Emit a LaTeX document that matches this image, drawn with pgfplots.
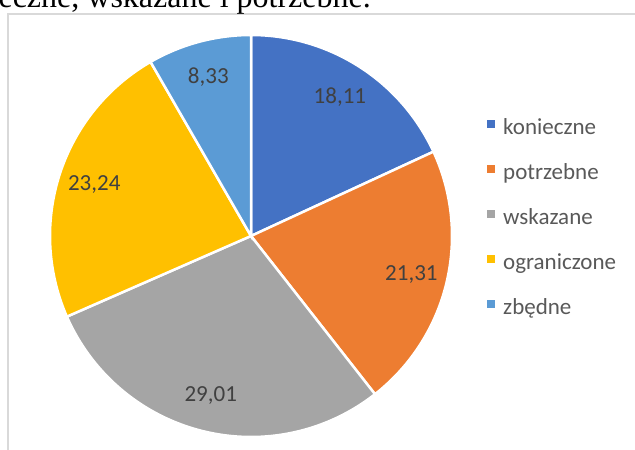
\documentclass[border=0pt]{standalone}
\usepackage{fontspec}
\setmainfont{Carlito}
\newfontfamily\serifttl{Liberation Serif}
\usepackage{pgfplots}
\pgfplotsset{compat=1.18}

\definecolor{pieA}{HTML}{4472C4}
\definecolor{pieB}{HTML}{ED7D31}
\definecolor{pieC}{HTML}{A5A5A5}
\definecolor{pieD}{HTML}{FFC000}
\definecolor{pieE}{HTML}{5B9BD5}
\definecolor{lbl}{HTML}{404040}
\definecolor{legtxt}{HTML}{595959}
\definecolor{framegray}{HTML}{D9D9D9}

% value/name/colour
\def\piedata{18.11/konieczne/pieA, 21.31/potrzebne/pieB, 29.01/wskazane/pieC, 23.24/ograniczone/pieD, 8.33/zbędne/pieE}
\newcommand\lblfont{\fontsize{23}{27}\selectfont}

\begin{document}
\begin{tikzpicture}
\begin{axis}[
  at={(0pt,0pt)}, anchor=south west,
  scale only axis, width=635pt, height=450pt,
  xmin=0, xmax=635, ymin=0, ymax=450,
  xtick=\empty, ytick=\empty,
  hide axis, clip=false,
  /pgf/number format/.cd, use comma, fixed, precision=2, fixed zerofill, assume math mode=true,
  /pgfplots/.cd,
  legend image code/.code={\fill[#1, draw=none] (0pt,1pt) rectangle (8pt,9pt);},
  legend cell align=left,
  legend style={at={(axis cs:487,332)}, anchor=north west, draw=none, fill=none,
    font=\lblfont, text=legtxt, row sep=24pt, inner sep=0pt,
    nodes={inner sep=0pt, text height=16pt, text depth=5pt},
    /tikz/every odd column/.append style={column sep=8pt}},
]
\def\angstart{90}
\foreach \v/\n/\col in \piedata {
  \pgfmathsetmacro\angend{\angstart-3.6*\v}
  \pgfmathsetmacro\angmid{(\angstart+\angend)/2}
  \edef\tmp{
    \noexpand\addplot[fill=\col, draw=white, line width=2.5pt, domain=\angend:\angstart, samples=120]
      ({251+201*cos(x)},{214+201*sin(x)}) -- (axis cs:251,214) -- cycle;
    \noexpand\addlegendentry{\n}
    \noexpand\node[font=\noexpand\lblfont, text=lbl]
      at (axis cs:{251+165*cos(\angmid)},{214+165*sin(\angmid)}) {\noexpand\pgfmathprintnumber{\v}};
  }
  \tmp
  \global\let\angstart\angend
}
\end{axis}
\draw[framegray, line width=1.5pt] (8pt,0pt) -- (8pt,436pt) -- (635pt,436pt);
\node[overlay, anchor=base east, inner sep=0pt, font=\serifttl\fontsize{32}{36}\selectfont]
  at (371pt,442.5pt) {konieczne, wskazane i potrzebne.};
\pgfresetboundingbox
\useasboundingbox (0pt,0pt) rectangle (635pt,450pt);
\end{tikzpicture}
\end{document}
